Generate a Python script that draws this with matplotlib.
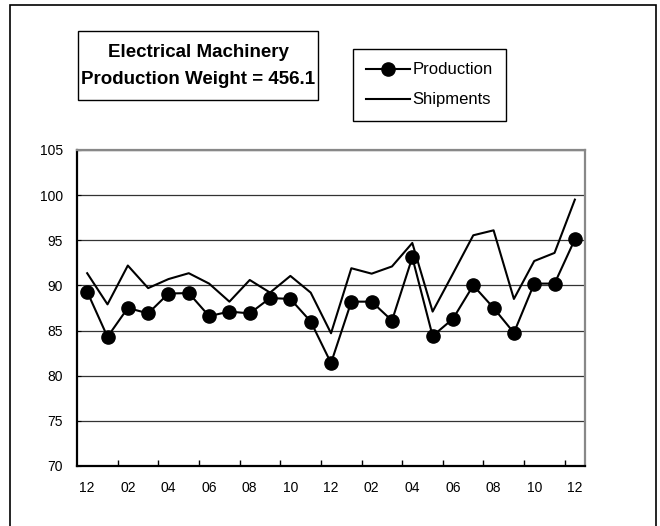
import matplotlib.pyplot as plt
from matplotlib.patches import Rectangle

# months along the x axis (Dec to Dec, two years)
months = ['12', '01', '02', '03', '04', '05', '06', '07', '08', '09', '10', '11',
          '12', '01', '02', '03', '04', '05', '06', '07', '08', '09', '10', '11', '12']
production = [89.3, 84.3, 87.5, 86.9, 89.1, 89.15, 86.6, 87.1, 86.9, 88.6, 88.5, 86.0,
              81.4, 88.2, 88.2, 86.1, 93.1, 84.4, 86.3, 90.0, 87.5, 84.75, 90.2, 90.2, 95.1]
shipments = [91.35, 87.9, 92.2, 89.7, 90.7, 91.35, 90.2, 88.2, 90.6, 89.2, 91.05, 89.2,
             84.7, 91.9, 91.3, 92.1, 94.7, 87.1, 91.3, 95.55, 96.1, 88.5, 92.7, 93.6, 99.5]
y_ticks = [70, 75, 80, 85, 90, 95, 100, 105]

plt.rcParams['font.family'] = ['Liberation Sans', 'DejaVu Sans']

fig = plt.figure(figsize=(6.6, 5.26), dpi=100)

# outer chart border
fig.patches.append(Rectangle((0.0144, -0.02), 0.9795, 1.0114, transform=fig.transFigure,
                             fill=False, edgecolor='black', linewidth=1.2))

ax = fig.add_axes([0.1167, 0.1141, 0.7697, 0.6008])
x = list(range(len(months)))

ax.plot(x, shipments, color='black', linewidth=1.5, label='Shipments', zorder=3)
ax.plot(x, production, color='black', linewidth=1.5, marker='o', markersize=9.5,
        label='Production', zorder=4)

ax.set_xlim(-0.5, len(months) - 0.5)
ax.set_ylim(70, 105)
ax.set_yticks(y_ticks)
ax.yaxis.grid(True, color='#333333', linewidth=0.9)
ax.set_axisbelow(True)

# category labels every other month, ticks between categories
ax.set_xticks(x[::2])
ax.set_xticklabels(months[::2])
ax.set_xticks([i + 1.5 for i in x[:-1:2]], minor=True)
ax.tick_params(axis='x', which='major', length=0, pad=11, labelsize=10)
ax.tick_params(axis='x', which='minor', direction='in', length=4, width=1)
ax.tick_params(axis='y', direction='in', length=3, pad=10, labelsize=10)

for side in ['left', 'bottom']:
    ax.spines[side].set_color('black')
    ax.spines[side].set_linewidth(1.6)
for side in ['top', 'right']:
    ax.spines[side].set_color('#888888')
    ax.spines[side].set_linewidth(1.6)

# title box
fig.patches.append(Rectangle((0.118, 0.8099), 0.3636, 0.1312, transform=fig.transFigure,
                             fill=False, edgecolor='black', linewidth=1.0))
fig.text(0.3, 0.8745, 'Electrical Machinery\nProduction Weight = 456.1',
         ha='center', va='center', fontsize=13.5, fontweight='bold', linespacing=1.7)

handles, labels = ax.get_legend_handles_labels()
leg = fig.legend(handles[::-1], labels[::-1], loc='upper left',
                 bbox_to_anchor=(0.5348, 1 - 49 / 526), fontsize=12,
                 frameon=True, fancybox=False, edgecolor='black', framealpha=1,
                 handlelength=2.6, handletextpad=0.15, labelspacing=0.9,
                 borderpad=0.8, borderaxespad=0)
leg.get_frame().set_linewidth(1.0)

fig.savefig('out.png', dpi=100)
